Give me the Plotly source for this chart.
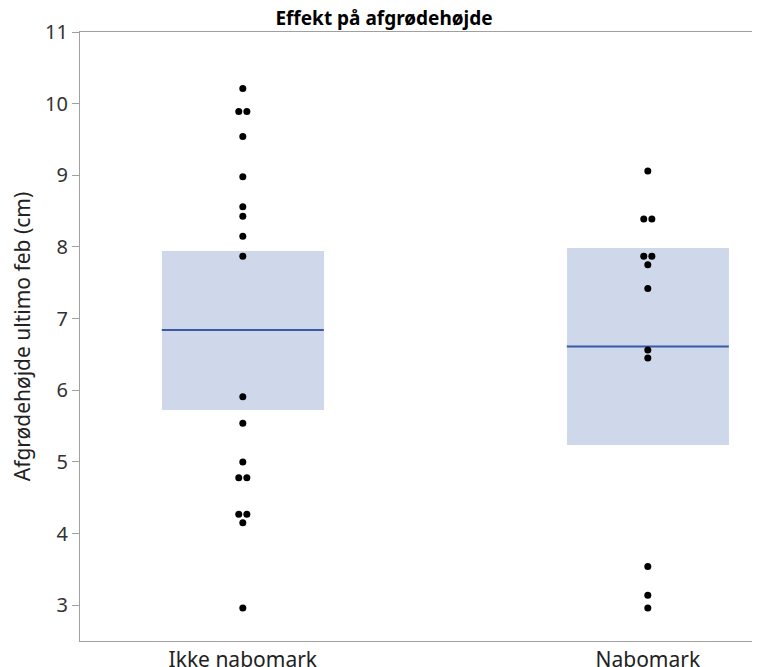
import plotly.graph_objects as go
from collections import Counter

categories = ["Ikke nabomark", "Nabomark"]
ikke_values = [10.21, 9.89, 9.89, 9.54, 8.98, 8.56, 8.43, 8.15, 7.87,
               5.91, 5.54, 5.00, 4.78, 4.78, 4.27, 4.27, 4.15, 2.96]
nabo_values = [9.06, 8.39, 8.39, 7.87, 7.87, 7.75, 7.42, 6.56, 6.45,
               3.54, 3.14, 2.96]
box_top = [7.95, 7.98]
box_bottom = [5.72, 5.23]
means = [6.84, 6.61]
y_ticks = [3, 4, 5, 6, 7, 8, 9, 10, 11]

groups = [ikke_values, nabo_values]
BOX_W = 0.40
DOT_GAP = 0.02

fig = go.Figure()

# shaded boxes
fig.add_trace(go.Bar(
    x=[0, 1], y=[t - b for t, b in zip(box_top, box_bottom)], base=box_bottom,
    width=BOX_W, marker=dict(color="#cfd8ea", line=dict(width=0)),
    hoverinfo="skip", showlegend=False))

# mean lines
for i, m in enumerate(means):
    fig.add_trace(go.Scatter(
        x=[i - BOX_W / 2, i + BOX_W / 2], y=[m, m], mode="lines",
        line=dict(color="#3a59a6", width=2), hoverinfo="skip", showlegend=False))

# points with simple swarm spreading of duplicates
for i, vals in enumerate(groups):
    counts = Counter(vals)
    seen = Counter()
    xs = []
    for v in vals:
        n = counts[v]
        k = seen[v]
        seen[v] += 1
        xs.append(i + (k - (n - 1) / 2) * DOT_GAP)
    fig.add_trace(go.Scatter(
        x=xs, y=vals, mode="markers",
        marker=dict(color="black", size=7), showlegend=False))

fig.update_layout(
    width=752, height=659,
    margin=dict(l=72, r=0, t=24, b=26, pad=0),
    paper_bgcolor="white", plot_bgcolor="white",
    font=dict(family="Noto Sans", color="#333333"),
    title=dict(text="<b>Effekt på afgrødehøjde</b>", xref="container", x=0.5,
               xanchor="center", yref="container", y=0.984, yanchor="middle",
               font=dict(size=19, color="black")),
    bargap=0,
)
fig.update_xaxes(
    range=[-0.402, 1.277], tickvals=[0, 1], ticktext=categories,
    automargin=False,
    showgrid=False, zeroline=False, showline=True, linecolor="#a0a0a0",
    linewidth=1, mirror=True, ticks="", ticklen=0,
    tickfont=dict(size=21, color="#222222"))
fig.update_yaxes(
    range=[2.5, 11], tickvals=y_ticks, showgrid=False, zeroline=False,
    automargin=False,
    showline=True, linecolor="#a0a0a0", linewidth=1, ticks="outside",
    ticklen=7, tickcolor="#a0a0a0", tickfont=dict(size=20, color="#333333"),
    title=dict(text="Afgrødehøjde ultimo feb (cm)", font=dict(size=21, color="#222222"),
               standoff=8))

fig.write_html("out.html")
